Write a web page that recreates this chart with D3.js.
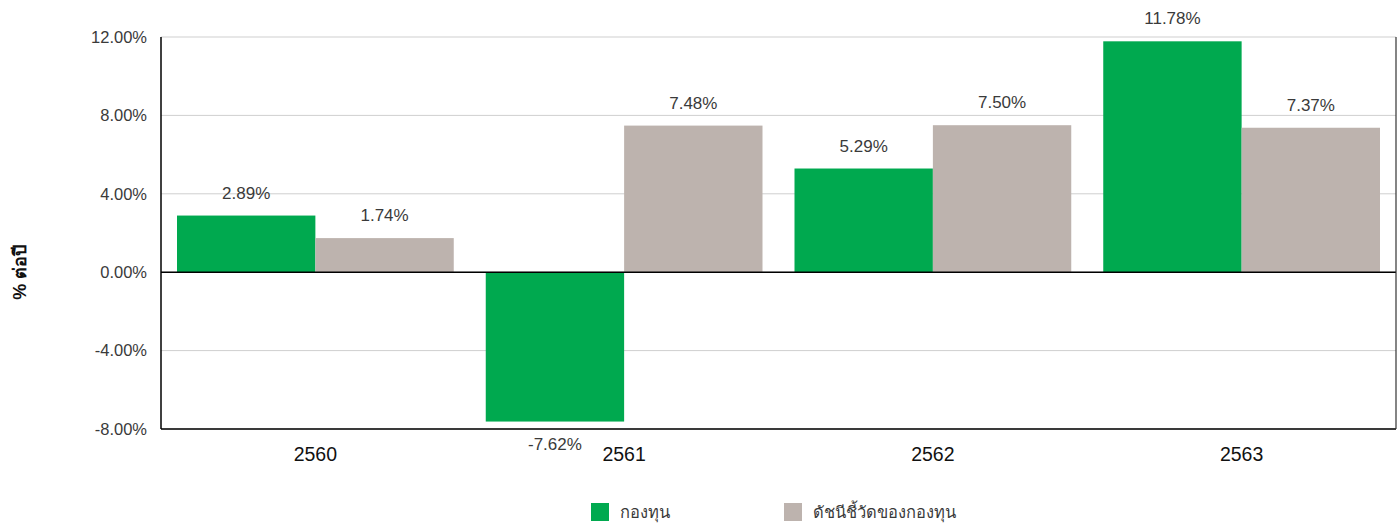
<!DOCTYPE html>
<html lang="th">
  <head>
    <meta charset="UTF-8" />
    <title>ผลการดำเนินงานรายปี</title>
    <script src="https://d3js.org/d3.v7.min.js"></script>
    <style>
      body {
        margin: 0;
        background: #fff;
        font-family: "Liberation Sans", Arial, "Noto Sans", sans-serif;
      }
      svg {
        display: block;
      }
    </style>
  </head>
  <body>
    <script>
      // data
      const years = ["2560", "2561", "2562", "2563"];
      const seriesNames = ["กองทุน", "ดัชนีชี้วัดของกองทุน"];
      const fundValues = [2.89, -7.62, 5.29, 11.78];
      const benchmarkValues = [1.74, 7.48, 7.5, 7.37];
      const yTicks = [-8, -4, 0, 4, 8, 12];
      const colors = ["#00a94f", "#bdb3ae"];

      const W = 1399,
        H = 523;
      const margin = { top: 37, right: 3, bottom: 94, left: 161 };
      const width = W - margin.left - margin.right;
      const height = H - margin.top - margin.bottom;

      const svg = d3.select("body").append("svg").attr("width", W).attr("height", H);
      const g = svg.append("g").attr("transform", `translate(${margin.left},${margin.top})`);

      // bands touch each other, gap comes from the inner bar range
      const x0 = d3.scaleBand().domain(years).range([0, width]).padding(0);
      const x1 = d3.scaleBand().domain([0, 1]).range([16, x0.bandwidth() - 16]);
      const y = d3.scaleLinear().domain([-8, 12]).range([height, 0]);

      // gridlines
      g.selectAll(".grid")
        .data(yTicks)
        .enter()
        .append("line")
        .attr("x1", 0)
        .attr("x2", width)
        .attr("y1", (d) => y(d))
        .attr("y2", (d) => y(d))
        .attr("stroke", "#cfcfcf")
        .attr("stroke-width", 1);

      // y tick labels
      g.selectAll(".ytick")
        .data(yTicks)
        .enter()
        .append("text")
        .attr("x", -14)
        .attr("y", (d) => y(d))
        .attr("dy", "0.35em")
        .attr("text-anchor", "end")
        .attr("fill", "#3a3a3a")
        .style("font-size", "16.5px")
        .text((d) => d.toFixed(2) + "%");

      const rows = years.map((yr, i) => ({ year: yr, values: [fundValues[i], benchmarkValues[i]] }));

      const groups = g
        .selectAll(".grp")
        .data(rows)
        .enter()
        .append("g")
        .attr("transform", (d) => `translate(${x0(d.year)},0)`);

      groups
        .selectAll("rect")
        .data((d) => d.values.map((v, k) => ({ v, k })))
        .enter()
        .append("rect")
        .attr("x", (d) => x1(d.k))
        .attr("width", x1.bandwidth())
        .attr("y", (d) => y(Math.max(0, d.v)))
        .attr("height", (d) => Math.abs(y(d.v) - y(0)))
        .attr("fill", (d) => colors[d.k]);

      // value labels
      groups
        .selectAll(".val")
        .data((d) => d.values.map((v, k) => ({ v, k })))
        .enter()
        .append("text")
        .attr("x", (d) => x1(d.k) + x1.bandwidth() / 2)
        .attr("y", (d) => (d.v >= 0 ? y(d.v) - 17 : y(d.v) + 28))
        .attr("text-anchor", "middle")
        .attr("fill", "#3a3a3a")
        .style("font-size", "17px")
        .text((d) => d.v.toFixed(2) + "%");

      // zero line, axes, right border
      g.append("line")
        .attr("x1", 0)
        .attr("x2", width)
        .attr("y1", y(0))
        .attr("y2", y(0))
        .attr("stroke", "#000")
        .attr("stroke-width", 1.5);
      g.append("line").attr("x1", 0).attr("x2", width).attr("y1", height).attr("y2", height).attr("stroke", "#000").attr("stroke-width", 1.5);
      g.append("line").attr("x1", 0).attr("x2", 0).attr("y1", 0).attr("y2", height).attr("stroke", "#000").attr("stroke-width", 1.5);
      g.append("line").attr("x1", width).attr("x2", width).attr("y1", 0).attr("y2", height).attr("stroke", "#333").attr("stroke-width", 1.2);

      // x labels
      g.selectAll(".xlab")
        .data(years)
        .enter()
        .append("text")
        .attr("x", (d) => x0(d) + x0.bandwidth() / 2)
        .attr("y", height + 32)
        .attr("text-anchor", "middle")
        .attr("fill", "#111")
        .style("font-size", "19.5px")
        .text((d) => d);

      // y axis title
      svg
        .append("text")
        .attr("transform", `translate(26,${margin.top + y(0)}) rotate(-90)`)
        .attr("text-anchor", "middle")
        .attr("fill", "#111")
        .style("font-size", "18px")
        .style("font-weight", "bold")
        .text("% ต่อปี");

      // legend
      const legendX = [591, 784];
      const legend = svg
        .selectAll(".legend")
        .data(seriesNames)
        .enter()
        .append("g")
        .attr("transform", (d, i) => `translate(${legendX[i]},503)`);
      legend
        .append("rect")
        .attr("width", 18)
        .attr("height", 18)
        .attr("fill", (d, i) => colors[i]);
      legend
        .append("text")
        .attr("x", 29)
        .attr("y", 9)
        .attr("dy", "0.38em")
        .attr("fill", "#3a3a3a")
        .style("font-size", "16.5px")
        .text((d) => d);
    </script>
  </body>
</html>
